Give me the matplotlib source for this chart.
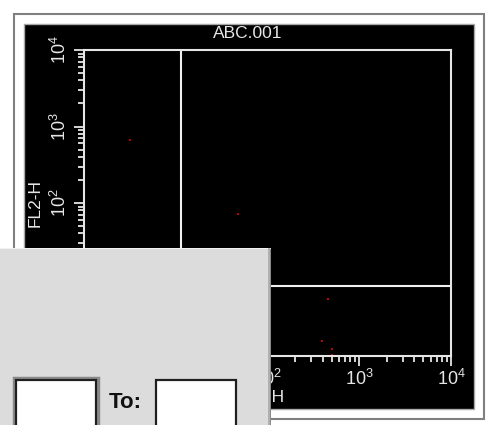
import matplotlib
matplotlib.use("Agg")
import matplotlib.pyplot as plt
from matplotlib.patches import Rectangle
from matplotlib.ticker import LogLocator, FixedLocator

plt.rcParams['font.family'] = ['Liberation Sans', 'DejaVu Sans']
plt.rcParams['mathtext.fontset'] = 'custom'
plt.rcParams['mathtext.rm'] = 'Liberation Sans'
plt.rcParams['mathtext.it'] = 'Liberation Sans'
plt.rcParams['mathtext.bf'] = 'Liberation Sans:bold'
plt.rcParams['mathtext.default'] = 'regular'

# ---- data ----
title = "ABC.001"
x_label = "FL1-H"
y_label = "FL2-H"
fl1_values = [3.2, 48, 460, 396, 509, 509]
fl2_values = [676, 72, 5.6, 1.57, 1.24, 1.03]
quadrant_x = 11.3
quadrant_y = 8.3
decades = [1, 10, 100, 1000, 10000]
decade_labels = [r"$10^{0}$", r"$10^{1}$", r"$10^{2}$", r"$10^{3}$", r"$10^{4}$"]
dialog_label = "To:"

W, H = 491, 425
fig = plt.figure(figsize=(W / 100, H / 100), dpi=100)
fig.patch.set_facecolor('white')


def rect_px(x, y, w, h, **kw):
    r = Rectangle((x / W, 1 - (y + h) / H), w / W, h / H,
                  transform=fig.transFigure, **kw)
    fig.add_artist(r)
    return r


# outer frame
rect_px(14, 14, 470, 405, facecolor='white', edgecolor='#808080', lw=1.5, zorder=-5)
# black panel
rect_px(24, 24, 450, 385, facecolor='black', edgecolor='#a8a8a8', lw=1.0, zorder=-4)

# axes
ax = fig.add_axes([84 / W, (H - 356) / H, 367 / W, 306 / H])
ax.set_facecolor('black')
ax.set_xscale('log')
ax.set_yscale('log')
ax.set_xlim(decades[0], decades[-1])
ax.set_ylim(decades[0], decades[-1])
for s in ax.spines.values():
    s.set_color('#e6e6e6')
    s.set_linewidth(1.5)

ax.xaxis.set_major_locator(FixedLocator(decades))
ax.yaxis.set_major_locator(FixedLocator(decades))
ax.xaxis.set_minor_locator(LogLocator(base=10, subs=range(2, 10), numticks=20))
ax.yaxis.set_minor_locator(LogLocator(base=10, subs=range(2, 10), numticks=20))
ax.set_xticklabels(decade_labels)
ax.set_yticklabels(decade_labels, rotation=90, va='center')
ax.xaxis.set_minor_formatter(plt.NullFormatter())
ax.yaxis.set_minor_formatter(plt.NullFormatter())
ax.tick_params(axis='both', which='major', direction='out', length=7, width=1.3,
               color='#e6e6e6', labelcolor='#e6e6e6', labelsize=13)
ax.tick_params(axis='both', which='minor', direction='out', length=4, width=1.3,
               color='#e6e6e6')
ax.tick_params(axis='x', which='major', pad=2)
ax.tick_params(axis='y', which='major', pad=3)

# quadrant lines
ax.axvline(quadrant_x, color='#f0f0f0', lw=1.5)
ax.axhline(quadrant_y, color='#f0f0f0', lw=1.5)

# events
ax.scatter(fl1_values, fl2_values, s=3.2, marker='s', color='#c00000', linewidths=0)

# labels
fig.text(248 / W, 1 - 34 / H, title, color='#e6e6e6', fontsize=12.5, ha='center', va='center')
fig.text(261 / W, 1 - 398 / H, x_label, color='#e6e6e6', fontsize=12.5, ha='center', va='center')
fig.text(35 / W, 1 - 203 / H, y_label, color='#e6e6e6', fontsize=12.5, ha='center', va='center',
         rotation=90)

# overlapping dialog
rect_px(0, 248, 271, 180, facecolor='#dcdcdc', edgecolor='none', zorder=20)
rect_px(0, 248, 268, 1.2, facecolor='#f2f2f2', edgecolor='none', zorder=21)
rect_px(268, 248, 1.5, 180, facecolor='#b0b0b0', edgecolor='none', zorder=21)
rect_px(269.5, 249, 1.5, 180, facecolor='#8a8a8a', edgecolor='none', zorder=21)
# text boxes
rect_px(14, 378, 84, 50, facecolor='white', edgecolor='#8a8a8a', lw=2.5, zorder=22)
rect_px(16, 380, 80, 50, facecolor='white', edgecolor='#202020', lw=1.6, zorder=23)
rect_px(156, 380, 80, 50, facecolor='white', edgecolor='#202020', lw=1.6, zorder=23)
fig.text(125 / W, 1 - 402 / H, dialog_label, color='#111111', fontsize=16, fontweight='bold',
         ha='center', va='center', zorder=24)

fig.savefig('out.png', dpi=100, facecolor=fig.get_facecolor())
